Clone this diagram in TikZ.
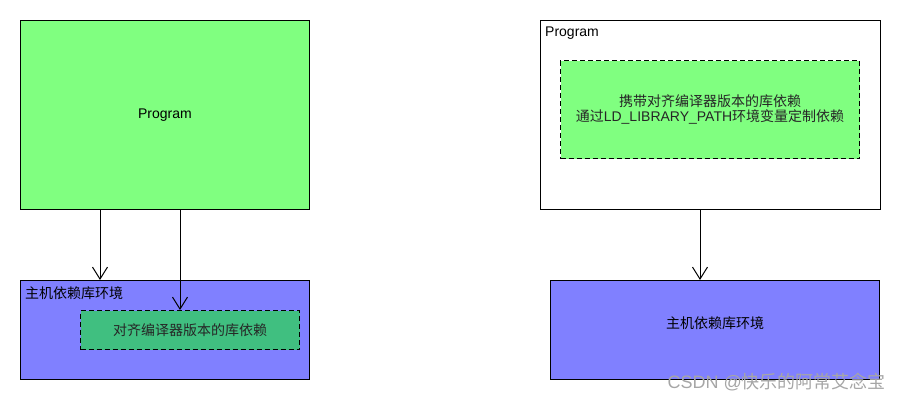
\documentclass[tikz,border=0pt]{standalone}
\usepackage{fontspec}
\setmainfont{Liberation Sans}
\newfontfamily\cjk{Noto Sans CJK SC}
\usetikzlibrary{arrows.meta}

\definecolor{progGreen}{HTML}{80FF80}
\definecolor{envBlue}{HTML}{8080FF}
\definecolor{depGreen}{HTML}{40BF80}

\tikzset{
    box/.style={draw, line width=1pt, anchor=north west, inner sep=0pt},
    depbox/.style={box, dashed, dash pattern=on 5pt off 3pt},
    lbl/.style={inner sep=0pt, font=\fontsize{14}{16}\selectfont},
    arr/.style={line width=1pt, -{Straight Barb[length=12pt, width=15pt]}}
}

\begin{document}
\begin{tikzpicture}[x=1pt, y=-1pt]
    \useasboundingbox (0,0) rectangle (900,400);

    % left: program uses host libraries
    \node[box, fill=progGreen, minimum width=289pt, minimum height=189pt] (progL) at (20,20) {};
    \node[lbl] at (progL.center) {Program};
    \node[box, fill=envBlue, minimum width=289pt, minimum height=99pt] (envL) at (20,280) {};
    \node[lbl, anchor=north west] at (25,286) {\cjk 主机依赖库环境};
    \node[depbox, fill=depGreen, minimum width=219pt, minimum height=39pt] (depL) at (80,310) {};
    \node[lbl, text=black!85] at (depL.center) {\cjk 对齐编译器版本的库依赖};

    \draw[arr] (progL.south -| 100,0) -- (envL.north -| 100,0);
    \draw[arr] (progL.south -| 180,0) -- (depL.north -| 180,0);

    % right: program carries its own libraries
    \node[box, fill=white, minimum width=340pt, minimum height=189pt] (progR) at (540,20) {};
    \node[lbl, anchor=north west] at (545,27) {Program};
    \node[depbox, fill=progGreen, minimum width=299pt, minimum height=98pt] (depR) at (560,60) {};
    \node[lbl, text=black!85, align=center] at (depR.center)
        {{\cjk 携带对齐编译器版本的库依赖}\\[-1pt]{\cjk 通过}LD\_LIBRARY\_PATH{\cjk 环境变量定制依赖}};
    \node[box, fill=envBlue, minimum width=329pt, minimum height=99pt] (envR) at (550,280) {};
    \node[lbl] at ([yshift=7pt]envR.center) {\cjk 主机依赖库环境};

    \draw[arr] (progR.south -| 700,0) -- (envR.north -| 700,0);

    % watermark
    \node[lbl, anchor=south east, text=black!35, font=\fontsize{18}{20}\selectfont] at (886,391)
        {CSDN @{\cjk 快乐的阿常艾念宝}};
\end{tikzpicture}
\end{document}
